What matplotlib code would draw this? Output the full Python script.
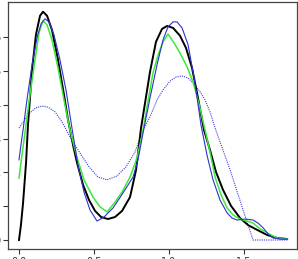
import matplotlib
matplotlib.use("Agg")
import matplotlib.pyplot as plt

# values
black_x = [0.000, 0.013, 0.027, 0.047, 0.060, 0.087, 0.113, 0.140, 0.160, 0.187,
           0.220, 0.260, 0.300, 0.327, 0.360, 0.387, 0.427, 0.467, 0.507, 0.547,
           0.593, 0.640, 0.687, 0.740, 0.780, 0.813, 0.873, 0.913, 0.953, 0.987,
           1.027, 1.073, 1.113, 1.153, 1.193, 1.233, 1.273, 1.313, 1.360, 1.413,
           1.473, 1.527, 1.587, 1.653, 1.720, 1.787]
black_y = [0.00, 0.44, 1.09, 2.28, 3.40, 5.03, 6.07, 6.63, 6.75, 6.63,
           6.21, 5.33, 4.29, 3.55, 2.81, 2.28, 1.63, 1.18, 0.86, 0.68,
           0.62, 0.68, 0.86, 1.27, 2.07, 3.30, 4.97, 5.86, 6.24, 6.33,
           6.27, 6.04, 5.68, 5.09, 4.20, 3.25, 2.66, 2.01, 1.48, 1.01,
           0.65, 0.44, 0.30, 0.15, 0.06, 0.03]

green_x = [0.000, 0.020, 0.040, 0.073, 0.107, 0.133, 0.160, 0.187, 0.220, 0.260,
           0.300, 0.340, 0.387, 0.433, 0.493, 0.540, 0.587, 0.640, 0.687, 0.740,
           0.787, 0.827, 0.860, 0.893, 0.927, 0.960, 0.993, 1.033, 1.073, 1.120,
           1.160, 1.200, 1.240, 1.273, 1.307, 1.347, 1.387, 1.427, 1.473, 1.520,
           1.560, 1.607, 1.653, 1.720, 1.787]
green_y = [1.83, 2.51, 3.17, 4.29, 5.33, 6.12, 6.48, 6.36, 5.92, 5.09,
           4.14, 3.25, 2.43, 1.78, 1.27, 0.98, 0.83, 1.12, 1.42, 1.86,
           2.43, 3.25, 4.11, 4.94, 5.47, 5.86, 6.09, 5.83, 5.53, 5.12,
           4.67, 4.02, 3.25, 2.60, 1.86, 1.33, 0.95, 0.74, 0.62, 0.56,
           0.50, 0.33, 0.21, 0.06, 0.03]

blue_x = [0.000, 0.013, 0.027, 0.053, 0.087, 0.120, 0.147, 0.173, 0.200, 0.233,
          0.273, 0.313, 0.353, 0.393, 0.433, 0.473, 0.520, 0.567, 0.627, 0.693,
          0.760, 0.793, 0.827, 0.873, 0.920, 0.960, 0.993, 1.027, 1.053, 1.087,
          1.127, 1.167, 1.187, 1.213, 1.253, 1.293, 1.340, 1.387, 1.420, 1.453,
          1.507, 1.560, 1.593, 1.627, 1.660, 1.693, 1.740, 1.787]
blue_y = [2.37, 2.81, 3.25, 4.14, 5.18, 5.98, 6.39, 6.54, 6.45, 6.07,
          5.33, 4.44, 3.31, 2.22, 1.42, 0.89, 0.56, 0.68, 0.95, 1.39,
          1.86, 2.37, 3.17, 4.20, 5.18, 5.92, 6.30, 6.45, 6.45, 6.27,
          5.77, 4.79, 4.20, 3.40, 2.51, 1.78, 1.18, 0.80, 0.65, 0.59,
          0.62, 0.59, 0.50, 0.36, 0.18, 0.06, 0.03, 0.03]

dotted_x = [0.000, 0.033, 0.073, 0.113, 0.153, 0.193, 0.240, 0.287, 0.340, 0.407,
            0.467, 0.527, 0.587, 0.653, 0.713, 0.773, 0.827, 0.873, 0.920, 0.960,
            1.007, 1.047, 1.087, 1.127, 1.167, 1.207, 1.240, 1.273, 1.307, 1.407,
            1.493, 1.560, 1.787]
dotted_y = [3.31, 3.52, 3.76, 3.91, 3.96, 3.93, 3.79, 3.49, 3.05, 2.57,
            2.16, 1.86, 1.78, 1.89, 2.16, 2.60, 3.25, 3.64, 4.14, 4.44,
            4.70, 4.82, 4.85, 4.79, 4.62, 4.38, 4.14, 3.79, 3.31, 2.07,
            0.89, 0.00, 0.00]

x_ticks = [0.0, 0.5, 1.0, 1.5]
y_ticks = [0, 1, 2, 3, 4, 5, 6]

fig = plt.figure(figsize=(2.98, 2.59), dpi=100)
ax = fig.add_axes([0.0268, 0.0386, 0.970, 0.954])

ax.plot(dotted_x, dotted_y, color="#3a3ae0", lw=0.8, ls=(0, (1, 1)))
ax.plot(black_x, black_y, color="black", lw=1.4)
ax.plot(green_x, green_y, color="#3be83b", lw=1.1)
ax.plot(blue_x, blue_y, color="#3030d0", lw=0.8)

ax.set_xlim(-0.0733, 1.853)
ax.set_ylim(-0.266, 7.04)
ax.set_xticks(x_ticks)
ax.set_xticklabels([f"{v:.1f}" for v in x_ticks])
ax.set_yticks(y_ticks)
ax.tick_params(labelsize=7, length=3.5, width=0.8, pad=2, colors="#333333")
for s in ax.spines.values():
    s.set_color("#444444")
    s.set_linewidth(0.9)

fig.savefig("out.png", dpi=100)
